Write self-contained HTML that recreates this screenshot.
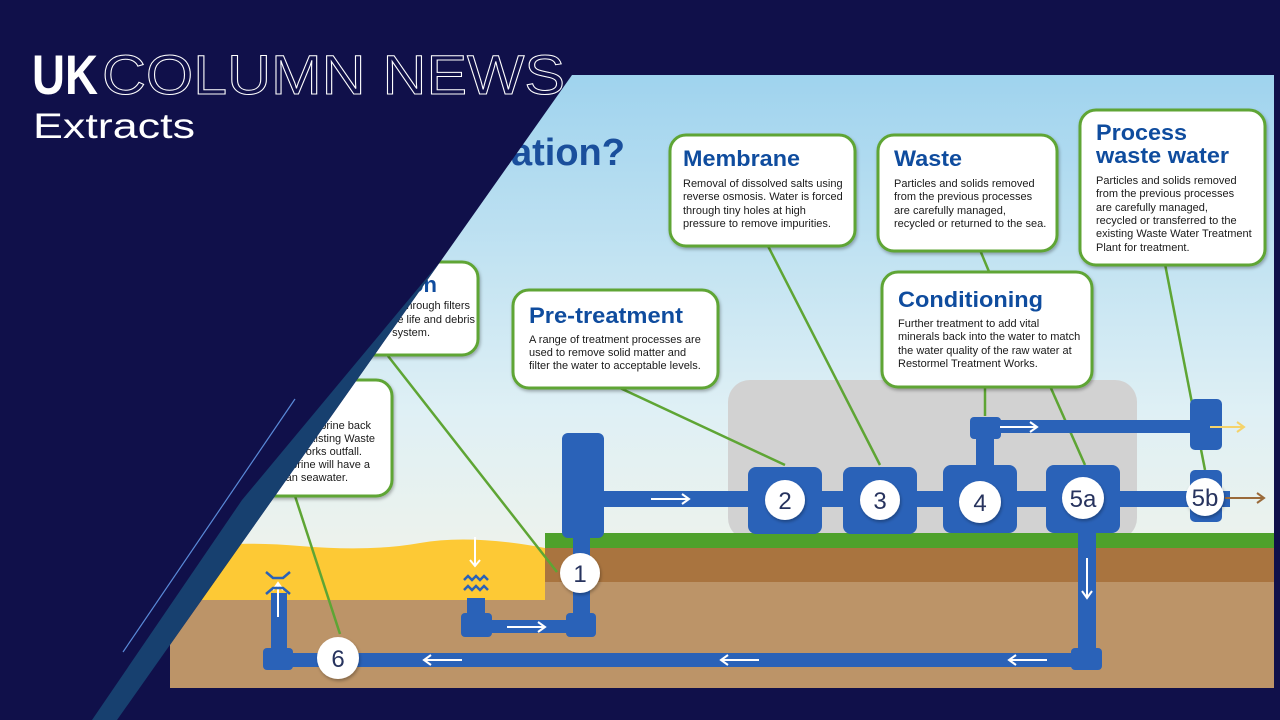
<!DOCTYPE html>
<html><head><meta charset="utf-8"><style>
html,body{margin:0;padding:0;background:#10104a;}
svg{display:block}
.h{font-family:"Liberation Sans",sans-serif;font-weight:bold;fill:#0f4c9e;font-size:22px}
.b{font-family:"Liberation Sans",sans-serif;fill:#1a1a1a;font-size:11px}
.n{font-family:"Liberation Sans",sans-serif;fill:#27335e;font-size:24px;text-anchor:middle}
</style></head><body>
<svg width="1280" height="720" viewBox="0 0 1280 720" xmlns="http://www.w3.org/2000/svg">
<defs>
<linearGradient id="sky" x1="0" y1="0" x2="0" y2="1">
<stop offset="0" stop-color="#9fd3ee"/><stop offset="0.55" stop-color="#dff0f5"/><stop offset="1" stop-color="#fbf5e3"/>
</linearGradient>
<filter id="sh" x="-10%" y="-10%" width="130%" height="130%"><feDropShadow dx="1" dy="2" stdDeviation="1.5" flood-color="#000" flood-opacity="0.3"/></filter>
</defs>
<rect width="1280" height="720" fill="#10104a"/>
<rect x="170" y="75" width="1104" height="613" fill="url(#sky)"/>
<rect x="728" y="380" width="409" height="160" rx="22" fill="#d2d2d2"/>
<path d="M170 550 Q230 540 300 546 T420 543 T545 548 L545 600 L170 600 Z" fill="#fdc935"/>
<rect x="545" y="533" width="729" height="15" fill="#4ea12b"/>
<rect x="545" y="548" width="729" height="34" fill="#a9743f"/>
<rect x="170" y="600" width="375" height="88" fill="#bc9468"/>
<rect x="545" y="582" width="729" height="106" fill="#bc9468"/>
<text x="625" y="165" text-anchor="end" font-family="Liberation Sans,sans-serif" font-weight="bold" font-size="38" fill="#1a4f9c">What is desalination?</text>

<g stroke="#5ea534" stroke-width="2.5" fill="none">
<line x1="768" y1="246" x2="880" y2="465"/>
<line x1="980" y1="250" x2="990" y2="274"/>
<line x1="985" y1="386" x2="985" y2="416"/>
<line x1="1050" y1="386" x2="1085" y2="465"/>
<line x1="1165" y1="264" x2="1205" y2="470"/>
<line x1="620" y1="388" x2="785" y2="465"/>
<line x1="388" y1="356" x2="557" y2="572"/>
<line x1="295" y1="496" x2="340" y2="634"/>
</g>

<g fill="#2a62b8">
<rect x="600" y="491" width="630" height="16"/>
<rect x="562" y="433" width="42" height="105" rx="6"/>
<rect x="573" y="536" width="17" height="84"/>
<rect x="566" y="613" width="30" height="24" rx="4"/>
<rect x="480" y="620" width="90" height="13"/>
<rect x="461" y="613" width="31" height="24" rx="4"/>
<rect x="467" y="598" width="18" height="17"/>
<rect x="976" y="437" width="18" height="30"/>
<rect x="995" y="420" width="200" height="13"/>
<rect x="970" y="417" width="31" height="22" rx="4"/>
<rect x="1190" y="399" width="32" height="51" rx="5"/>
<rect x="1190" y="470" width="32" height="52" rx="5"/>
<rect x="1078" y="530" width="18" height="122"/>
<rect x="1071" y="648" width="31" height="22" rx="4"/>
<rect x="275" y="653" width="800" height="14"/>
<rect x="271" y="593" width="16" height="60"/>
<rect x="263" y="648" width="30" height="22" rx="4"/>
<rect x="748" y="467" width="74" height="67" rx="8"/>
<rect x="843" y="467" width="74" height="67" rx="8"/>
<rect x="943" y="465" width="74" height="68" rx="8"/>
<rect x="1046" y="465" width="74" height="68" rx="8"/>
</g>
<g stroke="#fff" stroke-width="2" fill="none">
<path d="M651 499 H689 M682 494 L689 499 L682 504"/>
<path d="M1000 427 H1037 M1030 422 L1037 427 L1030 432"/>
<path d="M507 627 H545 M538 622 L545 627 L538 632"/>
<path d="M462 660 H424 M431 655 L424 660 L431 665"/>
<path d="M759 660 H721 M728 655 L721 660 L728 665"/>
<path d="M1047 660 H1009 M1016 655 L1009 660 L1016 665"/>
<path d="M1087 558 V598 M1082 591 L1087 598 L1092 591"/>
<path d="M278 617 V583 M273 590 L278 583 L283 590"/>
<path d="M475 537 V566 M470 560 L475 566 L480 560"/>
</g>
<path d="M1210 427 H1244 M1237 422 L1244 427 L1237 432" stroke="#f5d36a" stroke-width="2" fill="none"/>
<path d="M1225 498 H1264 M1257 493 L1264 498 L1257 503" stroke="#9a6a3a" stroke-width="2" fill="none"/>
<g stroke="#2a62b8" stroke-width="2.5" fill="none">
<path d="M464 580 l4 -4 l4 4 l4 -4 l4 4 l4 -4 l4 4"/>
<path d="M464 590 l4 -4 l4 4 l4 -4 l4 4 l4 -4 l4 4"/>
<path d="M266 572 l7 6 l10 0 l7 -6 M266 594 l7 -6 l10 0 l7 6"/>
</g>
<g filter="url(#sh)" fill="#fff">
<circle cx="785" cy="500" r="20"/><circle cx="880" cy="500" r="20"/>
<circle cx="980" cy="502" r="21"/><circle cx="1083" cy="498" r="21"/>
<circle cx="1205" cy="497" r="19"/><circle cx="580" cy="573" r="20"/>
<circle cx="338" cy="658" r="21"/>
</g>
<text class="n" x="785" y="509">2</text><text class="n" x="880" y="509">3</text>
<text class="n" x="980" y="511">4</text><text class="n" x="1083" y="507">5a</text>
<text class="n" x="1205" y="506">5b</text><text class="n" x="580" y="582">1</text>
<text class="n" x="338" y="667">6</text>

<g fill="#fff" stroke="#5ea534" stroke-width="3" filter="url(#sh)">
<rect x="670" y="135" width="185" height="111" rx="16"/>
<rect x="878" y="135" width="179" height="116" rx="16"/>
<rect x="1080" y="110" width="185" height="155" rx="16"/>
<rect x="882" y="272" width="210" height="115" rx="16"/>
<rect x="513" y="290" width="205" height="98" rx="16"/>
<rect x="250" y="262" width="228" height="93" rx="16"/>
<rect x="180" y="380" width="212" height="116" rx="16"/>
</g>
<text class="h" x="683" y="166" textLength="117" lengthAdjust="spacingAndGlyphs">Membrane</text>
<text class="b" x="683" y="187">Removal of dissolved salts using</text>
<text class="b" x="683" y="200">reverse osmosis. Water is forced</text>
<text class="b" x="683" y="214">through tiny holes at high</text>
<text class="b" x="683" y="227">pressure to remove impurities.</text>
<text class="h" x="894" y="166" textLength="68" lengthAdjust="spacingAndGlyphs">Waste</text>
<text class="b" x="894" y="187">Particles and solids removed</text>
<text class="b" x="894" y="200">from the previous processes</text>
<text class="b" x="894" y="214">are carefully managed,</text>
<text class="b" x="894" y="227">recycled or returned to the sea.</text>
<text class="h" x="1096" y="140" textLength="91" lengthAdjust="spacingAndGlyphs">Process</text>
<text class="h" x="1096" y="163" textLength="133" lengthAdjust="spacingAndGlyphs">waste water</text>
<text class="b" x="1096" y="184">Particles and solids removed</text>
<text class="b" x="1096" y="197">from the previous processes</text>
<text class="b" x="1096" y="211">are carefully managed,</text>
<text class="b" x="1096" y="224">recycled or transferred to the</text>
<text class="b" x="1096" y="237">existing Waste Water Treatment</text>
<text class="b" x="1096" y="251">Plant for treatment.</text>
<text class="h" x="898" y="307" textLength="145" lengthAdjust="spacingAndGlyphs">Conditioning</text>
<text class="b" x="898" y="327">Further treatment to add vital</text>
<text class="b" x="898" y="340">minerals back into the water to match</text>
<text class="b" x="898" y="354">the water quality of the raw water at</text>
<text class="b" x="898" y="367">Restormel Treatment Works.</text>
<text class="h" x="529" y="323" textLength="154" lengthAdjust="spacingAndGlyphs">Pre-treatment</text>
<text class="b" x="529" y="343">A range of treatment processes are</text>
<text class="b" x="529" y="356">used to remove solid matter and</text>
<text class="b" x="529" y="369">filter the water to acceptable levels.</text>
<text class="h" x="437" y="292" text-anchor="end">Filtration</text>
<text class="b" x="470" y="309" text-anchor="end">Seawater is drawn in through filters</text>
<text class="b" x="475" y="323" text-anchor="end">to remove marine life and debris</text>
<text class="b" x="430" y="336" text-anchor="end">from entering the system.</text>
<text class="b" x="371" y="429" text-anchor="end">Returns the brine back</text>
<text class="b" x="375" y="442" text-anchor="end">to sea via the existing Waste</text>
<text class="b" x="362" y="455" text-anchor="end">Water Treatment Works outfall.</text>
<text class="b" x="370" y="468" text-anchor="end">The returned brine will have a</text>
<text class="b" x="348" y="481" text-anchor="end">higher salt content than seawater.</text>

<rect x="0" y="688" width="1280" height="32" fill="#10104a"/>
<rect x="1274" y="0" width="6" height="720" fill="#10104a"/>
<rect x="0" y="0" width="1280" height="75" fill="#10104a"/>
<polygon points="0,75 572,75 117,720 0,720" fill="#10104a"/>
<polygon points="440,262 117,720 92,720 242,500" fill="#17406f"/>
<line x1="295" y1="399" x2="123" y2="652" stroke="#5a8ad8" stroke-width="1.2"/>
<text x="32" y="94" font-family="Liberation Sans,sans-serif" font-weight="bold" font-size="56" fill="#fff" textLength="66" lengthAdjust="spacingAndGlyphs">UK</text>
<text x="102" y="94" font-family="Liberation Sans,sans-serif" font-size="56" fill="none" stroke="#fff" stroke-width="1" textLength="463" lengthAdjust="spacingAndGlyphs">COLUMN NEWS</text>
<text x="33" y="138" font-family="Liberation Sans,sans-serif" font-size="35" fill="#fff" textLength="162" lengthAdjust="spacingAndGlyphs">Extracts</text>
</svg>
</body></html>
